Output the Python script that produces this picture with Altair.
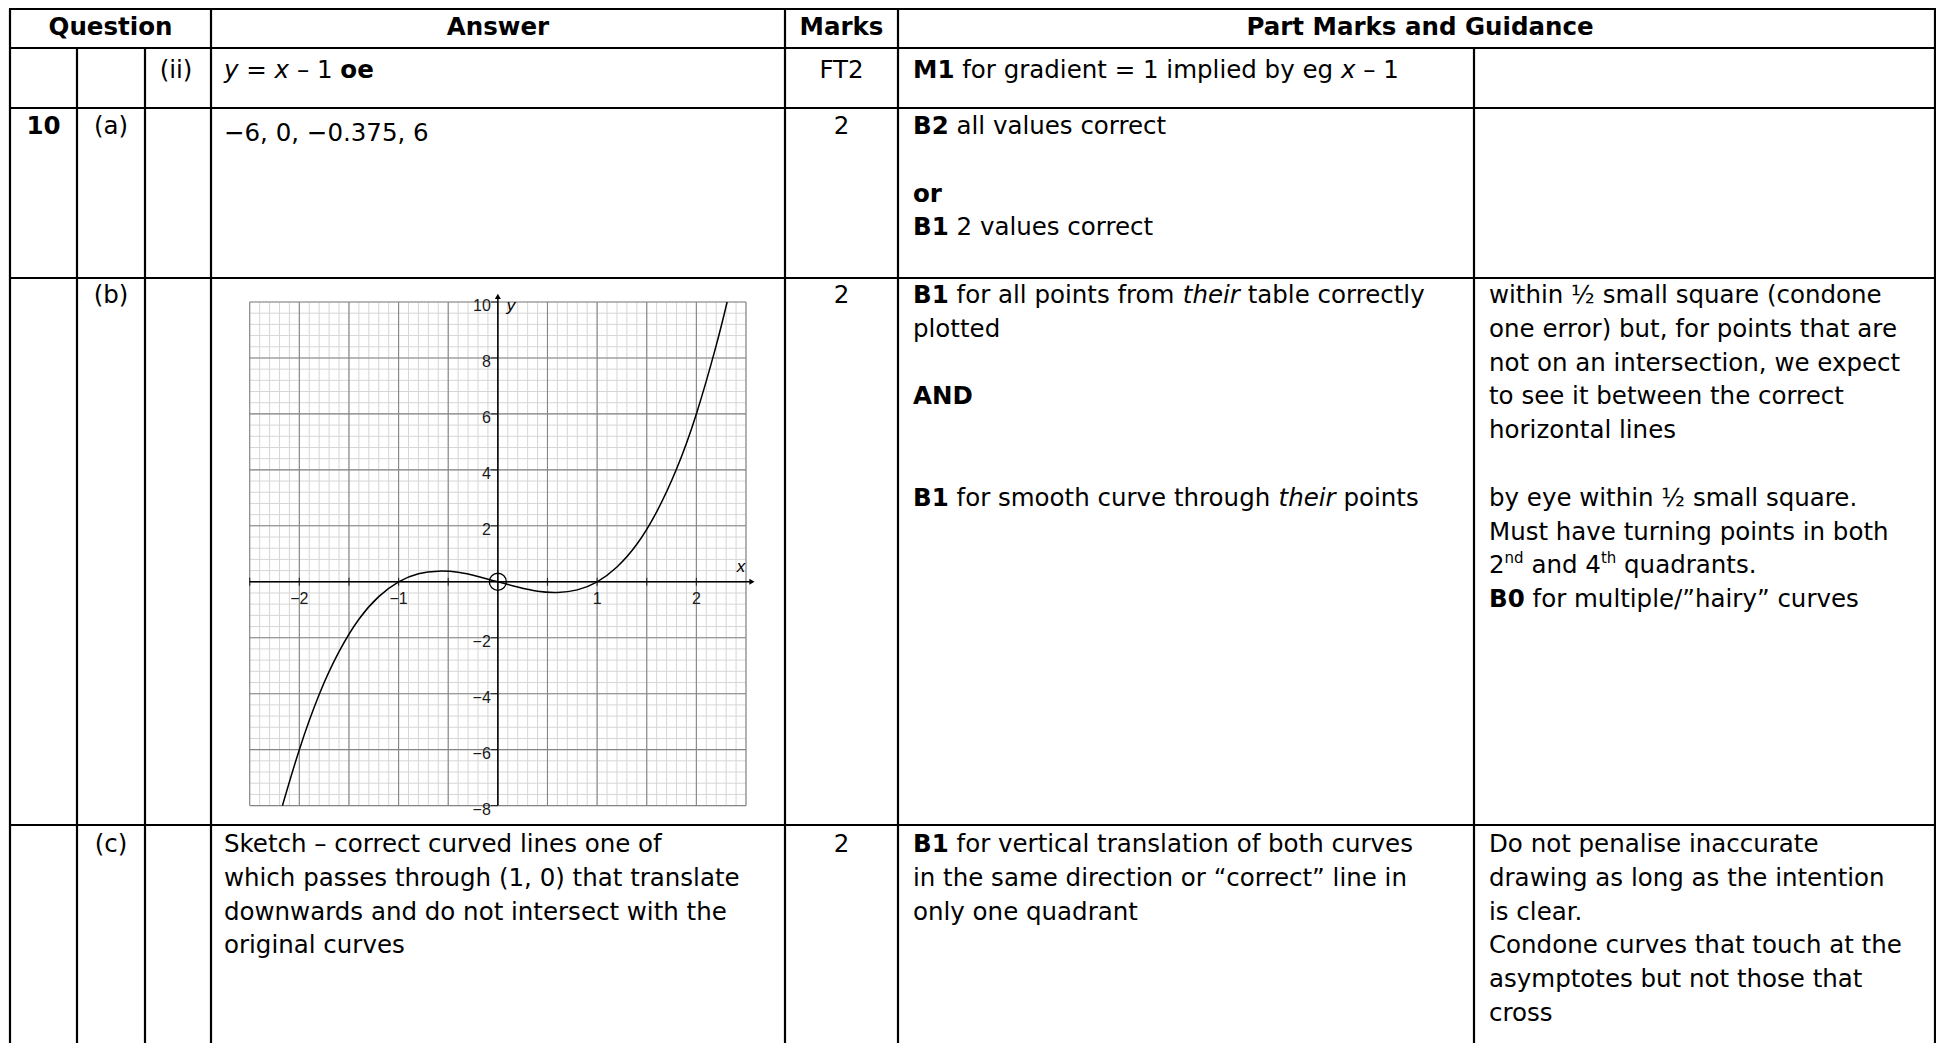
import altair as alt
import pandas as pd

# ======================= DATA =======================
HEADERS = ["Question", "Answer", "Marks", "Part Marks and Guidance"]

# table rows: question no., part, sub-part, marks, answer lines, guidance lines, notes
ROW_Q = ["", "10", "", ""]
ROW_PART = ["", "(a)", "(b)", "(c)"]
ROW_SUB = ["(ii)", "", "", ""]
ROW_MARKS = ["FT2", "2", "2", "2"]

ANSWERS = [
    [[("y", "i"), ("=", "n"), ("x", "i"), ("–", "n"), ("1", "n"), ("oe", "b")]],
    [[("−6, 0, −0.375, 6", "n")]],
    [],
    ["Sketch – correct curved lines one of",
     "which passes through (1, 0) that translate",
     "downwards and do not intersect with the",
     "original curves"],
]

GUIDANCE = [
    [[("M1", "b"), ("for gradient = 1 implied by eg", "n"), ("x", "i"), ("– 1", "n")]],
    [[("B2", "b"), ("all values correct", "n")], "",
     [("or", "b")],
     [("B1", "b"), ("2 values correct", "n")]],
    [[("B1", "b"), ("for all points from", "n"), ("their", "i"), ("table correctly", "n")],
     "plotted", "", [("AND", "b")], "", "",
     [("B1", "b"), ("for smooth curve through", "n"), ("their", "i"), ("points", "n")]],
    [[("B1", "b"), ("for vertical translation of both curves", "n")],
     "in the same direction or “correct” line in",
     "only one quadrant"],
]

NOTES = [
    [],
    [],
    ["within ½ small square (condone",
     "one error) but, for points that are",
     "not on an intersection, we expect",
     "to see it between the correct",
     "horizontal lines",
     "",
     "by eye within ½ small square.",
     "Must have turning points in both",
     [("2", "n"), ("nd", "sup", True), ("and 4", "n"), ("th", "sup", True), ("quadrants.", "n")],
     [("B0", "b"), ("for multiple/”hairy” curves", "n")]],
    ["Do not penalise inaccurate",
     "drawing as long as the intention",
     "is clear.",
     "Condone curves that touch at the",
     "asymptotes but not those that",
     "cross"],
]

# graph of the plotted curve
CURVE_X = [-2.17, -2.0, -1.8, -1.6, -1.4, -1.2, -1.0, -0.8, -0.6, -0.4, -0.2, 0.0,
           0.2, 0.4, 0.6, 0.8, 1.0, 1.2, 1.4, 1.6, 1.8, 2.0, 2.2, 2.31]
CURVE_Y = [-8.0, -6.0, -4.03, -2.5, -1.34, -0.53, 0.0, 0.29, 0.38, 0.34, 0.19, 0.0,
           -0.19, -0.34, -0.38, -0.29, 0.0, 0.53, 1.34, 2.5, 4.03, 6.0, 8.45, 10.0]
X_TICKS = [-2.5, -2.0, -1.5, -1.0, -0.5, 0.5, 1.0, 1.5, 2.0]
Y_TICKS = [10, 8, 6, 4, 2, -2, -4, -6, -8]
X_TICK_LABELS = [-2, -1, 1, 2]
Y_TICK_LABELS = [10, 8, 6, 4, 2, -2, -4, -6, -8]

# ======================= LAYOUT =======================
OFF = 8                      # page margin
W, H = 1928, 1035
FONT = "DejaVu Sans"
FS = 24.5
SUP_FS = 15
SUP_RISE = 8
PITCH = 33.8

COL_X = [10, 77, 145, 211, 785, 898, 1474, 1942]     # page px
ROW_Y = [6, 48, 108, 278, 825]
HEADER_Y = 28
FIRST_Y = [71, 127, 296, 845]
ANSWER_DY = [0, 7, 0, 0]
ANSWER_X, GUIDE_X, NOTE_X = 224, 913, 1489
Q_CX, PART_CX, SUB_CX, MARK_CX = 43.5, 111, 176, 841.5
HEAD_CX = [110.5, 498, 841.5, 1420]

# graph area (page px)
GX0, GX1 = 249.7, 746.0
GY_TOP, GY_BOT = 302.0, 805.6

REG_W = {' ': .318, '(': .390, ')': .390, ',': .318, '.': .318, '/': .337, '=': .838,
         '–': .5, '−': .838, '½': .969, '“': .521, '”': .521}
for d in "0123456789":
    REG_W[d] = .636
REG_W.update(dict(zip("abcdefghijklmnopqrstuvwxyz",
                      [.613, .635, .550, .635, .615, .352, .635, .634, .278, .278, .579, .278, .974,
                       .634, .612, .635, .635, .411, .521, .392, .634, .592, .818, .592, .592, .525])))
REG_W.update({'A': .684, 'B': .686, 'C': .698, 'D': .770, 'F': .575, 'M': .863, 'N': .748,
              'S': .635, 'T': .611, 'O': .787})
BOLD_W = {'B': .762, 'M': .994, 'A': .774, 'N': .837, 'D': .830, '0': .696, '1': .696,
          '2': .696, 'o': .687, 'r': .493, 'e': .678, ' ': .348}


def tw(s, kind):
    if kind == "b":
        return sum(BOLD_W.get(c, REG_W.get(c, .6) * 1.1) for c in s) * FS
    return sum(REG_W.get(c, .6) for c in s) * FS


def layout(lines, x0, y0):
    recs = []
    for i, line in enumerate(lines):
        if isinstance(line, str):
            line = [(line, "n")] if line else []
        y = y0 + i * PITCH
        x = x0
        for j, seg in enumerate(line):
            text, kind = seg[0], seg[1]
            join = len(seg) > 2 and seg[2]
            if j > 0 and not join:
                x += REG_W[' '] * FS
            if kind == "sup":
                recs.append((x, y - SUP_RISE, text, "sup"))
                x += tw(text, "n") * SUP_FS / FS
            else:
                recs.append((x, y, text, kind))
                x += tw(text, kind)
    return recs


recs = []
for h, cx_ in zip(HEADERS, HEAD_CX):
    recs.append((cx_, HEADER_Y, h, "cb"))
for r in range(4):
    y0 = FIRST_Y[r]
    if ROW_Q[r]:
        recs.append((Q_CX, y0, ROW_Q[r], "cb"))
    if ROW_PART[r]:
        recs.append((PART_CX, y0, ROW_PART[r], "cn"))
    if ROW_SUB[r]:
        recs.append((SUB_CX, y0, ROW_SUB[r], "cn"))
    recs.append((MARK_CX, y0, ROW_MARKS[r], "cn"))
    recs += layout(ANSWERS[r], ANSWER_X, y0 + ANSWER_DY[r])
    recs += layout(GUIDANCE[r], GUIDE_X, y0)
    recs += layout(NOTES[r], NOTE_X, y0)

text_df = pd.DataFrame(recs, columns=["px", "py", "t", "kind"])
text_df["px"] -= OFF
text_df["py"] -= OFF


# table rules
def cx(v):
    return min(max(v - OFF, 1), W - 1)


def cy(v):
    return min(max(v - OFF, 1), H)


bottom = H
lines = []
for yv in ROW_Y:
    lines.append((cx(COL_X[0]) - 1, cx(COL_X[-1]) + 1, cy(yv), cy(yv)))
for k, xv in enumerate(COL_X):
    top = ROW_Y[1] if k in (1, 2, 6) else ROW_Y[0]
    lines.append((cx(xv), cx(xv), cy(top), bottom))
rule_df = pd.DataFrame(lines, columns=["x", "x2", "y", "y2"])

PX = dict(scale=None, axis=None)
table_rules = alt.Chart(rule_df).mark_rule(color="black", strokeWidth=2.2).encode(
    x=alt.X("x:Q", **PX), x2="x2:Q", y=alt.Y("y:Q", **PX), y2="y2:Q")

text_layers = []
styles = {
    "n": dict(align="left"),
    "b": dict(align="left", fontWeight="bold"),
    "i": dict(align="left", fontStyle="italic"),
    "cn": dict(align="center"),
    "cb": dict(align="center", fontWeight="bold"),
    "sup": dict(align="left", fontSize=SUP_FS),
}
for kind, st in styles.items():
    sub = text_df[text_df["kind"] == kind]
    if sub.empty:
        continue
    props = dict(font=FONT, fontSize=FS, baseline="middle", color="black")
    props.update(st)
    text_layers.append(
        alt.Chart(sub).mark_text(**props).encode(
            x=alt.X("px:Q", **PX), y=alt.Y("py:Q", **PX), text="t:N"))

# ---------------- graph ----------------
SX = alt.Scale(domain=[-2.5, 2.5], range=[GX0 - OFF, GX1 - OFF], nice=False, zero=False)
SY = alt.Scale(domain=[-8, 10], range=[GY_BOT - OFF, GY_TOP - OFF], nice=False, zero=False)

minor_x = [round(-2.5 + 0.1 * i, 2) for i in range(51)]
minor_y = [round(-8 + 0.4 * i, 2) for i in range(46)]
major_x = [round(-2.5 + 0.5 * i, 2) for i in range(11)]
major_y = [-8 + 2 * i for i in range(10)]


def vgrid(vals, color, w):
    return alt.Chart(pd.DataFrame({"v": vals})).mark_rule(color=color, strokeWidth=w).encode(
        x=alt.X("v:Q", scale=SX, axis=None),
        y=alt.value(GY_TOP - OFF), y2=alt.value(GY_BOT - OFF))


def hgrid(vals, color, w):
    return alt.Chart(pd.DataFrame({"v": vals})).mark_rule(color=color, strokeWidth=w).encode(
        y=alt.Y("v:Q", scale=SY, axis=None),
        x=alt.value(GX0 - OFF), x2=alt.value(GX1 - OFF))


graph_layers = [
    vgrid(minor_x, "#d6d6d6", 1), hgrid(minor_y, "#d6d6d6", 1),
    vgrid(major_x, "#858585", 1.1), hgrid(major_y, "#858585", 1.1),
]

xaxis_df = pd.DataFrame({"a": [-2.5], "b": [2.55], "z": [0]})
yaxis_df = pd.DataFrame({"a": [-8.0], "b": [10.15], "z": [0]})
graph_layers.append(alt.Chart(xaxis_df).mark_rule(color="black", strokeWidth=1.5).encode(
    x=alt.X("a:Q", scale=SX, axis=None), x2="b:Q", y=alt.Y("z:Q", scale=SY, axis=None)))
graph_layers.append(alt.Chart(yaxis_df).mark_rule(color="black", strokeWidth=1.5).encode(
    y=alt.Y("a:Q", scale=SY, axis=None), y2="b:Q", x=alt.X("z:Q", scale=SX, axis=None)))

xt_df = pd.DataFrame({"v": X_TICKS, "z": [0] * len(X_TICKS)})
yt_df = pd.DataFrame({"v": Y_TICKS, "z": [0] * len(Y_TICKS)})
graph_layers.append(alt.Chart(xt_df).mark_tick(orient="vertical", size=8, thickness=1.2, color="black").encode(
    x=alt.X("v:Q", scale=SX, axis=None), y=alt.Y("z:Q", scale=SY, axis=None)))
graph_layers.append(alt.Chart(yt_df).mark_tick(orient="horizontal", size=7, thickness=1.2, color="black",
                                               xOffset=-3.5).encode(
    y=alt.Y("v:Q", scale=SY, axis=None), x=alt.X("z:Q", scale=SX, axis=None)))

xl_df = pd.DataFrame({"v": X_TICK_LABELS, "z": [0] * len(X_TICK_LABELS),
                      "lab": [str(v).replace("-", "−") for v in X_TICK_LABELS]})
yl_df = pd.DataFrame({"v": Y_TICK_LABELS, "z": [0] * len(Y_TICK_LABELS),
                      "lab": [str(v).replace("-", "−") for v in Y_TICK_LABELS]})
graph_layers.append(alt.Chart(xl_df).mark_text(font="Liberation Sans", fontSize=16, color="#1a1a1a",
                                               baseline="middle", align="center", dy=17).encode(
    x=alt.X("v:Q", scale=SX, axis=None), y=alt.Y("z:Q", scale=SY, axis=None), text="lab:N"))
graph_layers.append(alt.Chart(yl_df).mark_text(font="Liberation Sans", fontSize=16, color="#1a1a1a",
                                               baseline="middle", align="right", dx=-7, dy=4).encode(
    y=alt.Y("v:Q", scale=SY, axis=None), x=alt.X("z:Q", scale=SX, axis=None), text="lab:N"))

curve_df = pd.DataFrame({"x": CURVE_X, "y": CURVE_Y})
graph_layers.append(alt.Chart(curve_df).mark_line(color="black", strokeWidth=1.5, interpolate="natural").encode(
    x=alt.X("x:Q", scale=SX, axis=None), y=alt.Y("y:Q", scale=SY, axis=None)))

origin_df = pd.DataFrame({"x": [0.0], "y": [0.0]})
graph_layers.append(alt.Chart(origin_df).mark_point(shape="circle", size=290, filled=False, color="black",
                                                    strokeWidth=1.3, opacity=1).encode(
    x=alt.X("x:Q", scale=SX, axis=None), y=alt.Y("y:Q", scale=SY, axis=None)))

arrow_r = pd.DataFrame({"x": [2.56], "y": [0.0]})
arrow_u = pd.DataFrame({"x": [0.0], "y": [10.2]})
graph_layers.append(alt.Chart(arrow_r).mark_point(shape="triangle-right", filled=True, size=35,
                                                  color="black", opacity=1).encode(
    x=alt.X("x:Q", scale=SX, axis=None), y=alt.Y("y:Q", scale=SY, axis=None)))
graph_layers.append(alt.Chart(arrow_u).mark_point(shape="triangle-up", filled=True, size=35,
                                                  color="black", opacity=1).encode(
    x=alt.X("x:Q", scale=SX, axis=None), y=alt.Y("y:Q", scale=SY, axis=None)))

axlab = pd.DataFrame({"x": [2.45], "y": [0.0], "t": ["x"]})
aylab = pd.DataFrame({"x": [0.0], "y": [10.0], "t": ["y"]})
graph_layers.append(alt.Chart(axlab).mark_text(font="Liberation Sans", fontSize=17, fontStyle="italic",
                                               color="black", align="center", baseline="middle", dy=-15).encode(
    x=alt.X("x:Q", scale=SX, axis=None), y=alt.Y("y:Q", scale=SY, axis=None), text="t:N"))
graph_layers.append(alt.Chart(aylab).mark_text(font="Liberation Sans", fontSize=17, fontStyle="italic",
                                               color="black", align="left", baseline="middle", dx=9, dy=4).encode(
    x=alt.X("x:Q", scale=SX, axis=None), y=alt.Y("y:Q", scale=SY, axis=None), text="t:N"))

chart = alt.layer(table_rules, *graph_layers, *text_layers).resolve_scale(
    x="independent", y="independent"
).properties(
    width=W, height=H, padding=0, autosize=alt.AutoSizeParams(type="none")
).configure_view(stroke=None)

chart.save("out.html", embed_options={"renderer": "svg", "actions": False})
